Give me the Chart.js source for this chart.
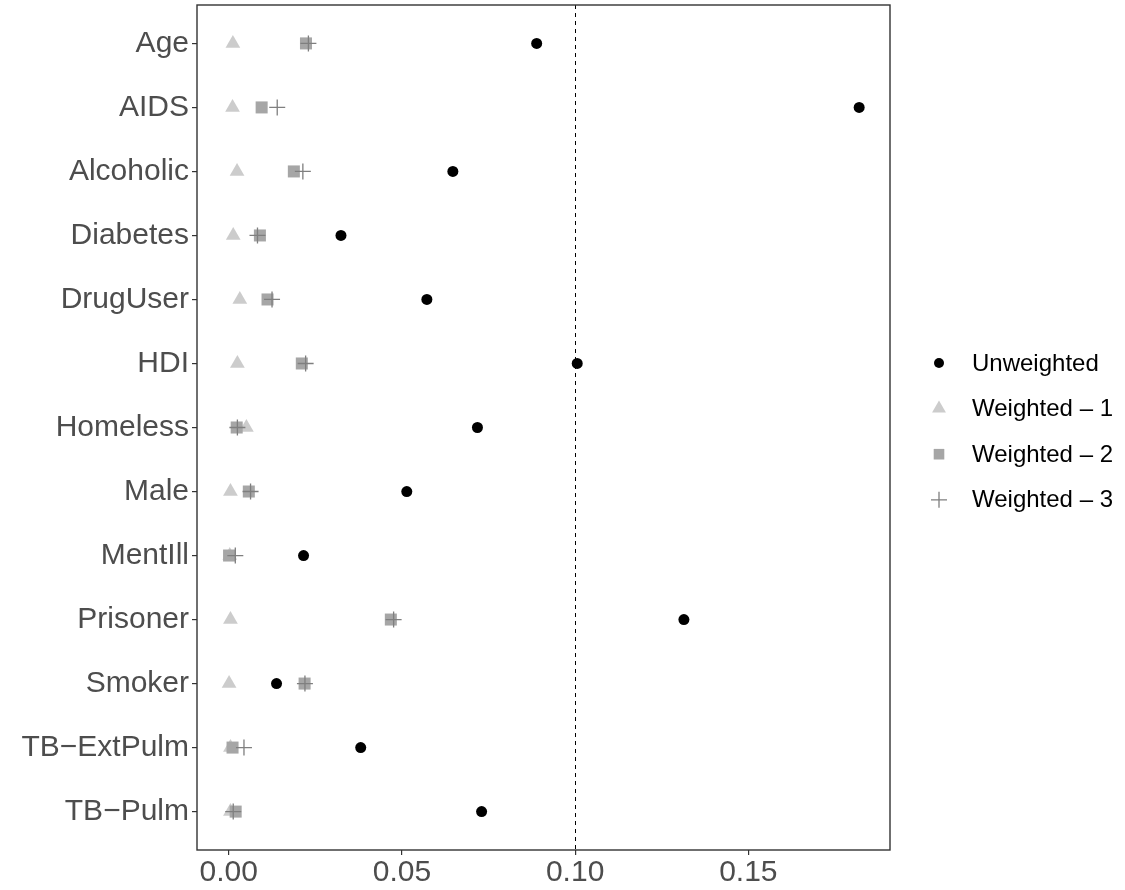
<!DOCTYPE html>
<html>
<head>
<meta charset="utf-8">
<title>Balance plot</title>
<script src="https://cdn.jsdelivr.net/npm/chart.js@4.4.1/dist/chart.umd.min.js"></script>
<style>
  html, body { margin: 0; padding: 0; background: #ffffff; }
  #wrap { width: 1125px; height: 890px; }
</style>
</head>
<body>
<div id="wrap"><canvas id="balanceChart"></canvas></div>
<script>
// covariates, top to bottom
var covariates = ['Age', 'AIDS', 'Alcoholic', 'Diabetes', 'DrugUser', 'HDI', 'Homeless',
                  'Male', 'MentIll', 'Prisoner', 'Smoker', 'TB\u2212ExtPulm', 'TB\u2212Pulm'];

// standardized mean differences
var unweighted = [0.0889, 0.1820, 0.0647, 0.0324, 0.0572, 0.1006, 0.0718, 0.0514, 0.0216, 0.1314, 0.0138, 0.0381, 0.0730];
var weighted1  = [0.0012, 0.0011, 0.0024, 0.0013, 0.0032, 0.0025, 0.0051, 0.0005, 0.0003, 0.0005, 0.0001, 0.0005, 0.0005];
var weighted2  = [0.0223, 0.0095, 0.0188, 0.0090, 0.0112, 0.0211, 0.0023, 0.0058, 0.0001, 0.0468, 0.0219, 0.0011, 0.0020];
var weighted3  = [0.0230, 0.0140, 0.0214, 0.0083, 0.0125, 0.0222, 0.0025, 0.0063, 0.0019, 0.0476, 0.0220, 0.0044, 0.0013];

var xTicks = [0, 0.05, 0.10, 0.15];
var threshold = 0.1;

var labelFont = '"Liberation Sans", Arial, Helvetica, sans-serif';

function toPoints(vals) {
  return vals.map(function (v, i) { return { x: v, y: i }; });
}

// dataset 0 is drawn last (on top), so the plus series goes first
var datasets = [
  {
    label: 'Weighted \u2013 3',
    data: toPoints(weighted3),
    pointStyle: 'cross',
    pointRadius: 8,
    borderColor: '#7f7f7f',
    backgroundColor: '#7f7f7f',
    borderWidth: 1.3,
    legendRadius: 8
  },
  {
    label: 'Weighted \u2013 2',
    data: toPoints(weighted2),
    pointStyle: 'rect',
    pointRadius: 8.5,
    backgroundColor: '#a6a6a6',
    borderColor: '#a6a6a6',
    borderWidth: 0,
    legendRadius: 7.5
  },
  {
    label: 'Weighted \u2013 1',
    data: toPoints(weighted1),
    pointStyle: 'triangle',
    pointRadius: 8.5,
    backgroundColor: '#cccccc',
    borderColor: '#cccccc',
    borderWidth: 0,
    legendRadius: 8
  },
  {
    label: 'Unweighted',
    data: toPoints(unweighted),
    pointStyle: 'circle',
    pointRadius: 5.5,
    backgroundColor: '#000000',
    borderColor: '#000000',
    borderWidth: 0,
    legendRadius: 5
  }
];

// dashed reference line + panel border
var panelPlugin = {
  id: 'panel',
  beforeDatasetsDraw: function (chart) {
    var ctx = chart.ctx, area = chart.chartArea;
    var x = chart.scales.x.getPixelForValue(threshold);
    ctx.save();
    ctx.strokeStyle = '#000000';
    ctx.lineWidth = 1;
    ctx.setLineDash([4, 4]);
    ctx.beginPath();
    ctx.moveTo(Math.round(x) + 0.5, area.top);
    ctx.lineTo(Math.round(x) + 0.5, area.bottom);
    ctx.stroke();
    ctx.restore();
  },
  afterDraw: function (chart) {
    var ctx = chart.ctx, area = chart.chartArea;
    ctx.save();
    ctx.strokeStyle = '#333333';
    ctx.lineWidth = 1.4;
    ctx.strokeRect(area.left, area.top, area.right - area.left, area.bottom - area.top);
    ctx.restore();
  }
};

// legend on the right, in original order
var legendPlugin = {
  id: 'sideLegend',
  afterDraw: function (chart) {
    var ctx = chart.ctx;
    var items = chart.data.datasets.slice().reverse();
    var markX = 939, textX = 972, rowY = 363, step = 45.6;
    ctx.save();
    ctx.font = '24px ' + labelFont;
    ctx.textAlign = 'left';
    ctx.textBaseline = 'middle';
    items.forEach(function (ds, i) {
      var y = rowY + i * step;
      ctx.fillStyle = ds.backgroundColor;
      ctx.strokeStyle = ds.borderColor;
      ctx.lineWidth = ds.borderWidth;
      Chart.helpers.drawPoint(ctx, {
        pointStyle: ds.pointStyle,
        radius: ds.legendRadius,
        rotation: 0,
        borderWidth: ds.borderWidth
      }, markX, y);
      ctx.fillStyle = '#000000';
      ctx.fillText(ds.label, textX, y + 1);
    });
    ctx.restore();
  }
};

var ctx = document.getElementById('balanceChart').getContext('2d');
new Chart(ctx, {
  type: 'scatter',
  data: { datasets: datasets },
  plugins: [panelPlugin, legendPlugin],
  options: {
    responsive: true,
    maintainAspectRatio: false,
    animation: false,
    events: [],
    layout: { autoPadding: false, padding: { top: 5, right: 235, bottom: 0, left: 0 } },
    plugins: {
      legend: { display: false },
      tooltip: { enabled: false }
    },
    scales: {
      x: {
        type: 'linear',
        min: -0.00916,
        max: 0.1909,
        afterBuildTicks: function (scale) {
          scale.ticks = xTicks.map(function (v) { return { value: v }; });
        },
        afterFit: function (scale) {
          scale.height = 40;
          scale.paddingLeft = 0;
          scale.paddingRight = 0;
        },
        border: { display: false },
        grid: { drawOnChartArea: false, drawTicks: true, tickLength: 5, color: '#333333', lineWidth: 1.2 },
        ticks: {
          autoSkip: false,
          maxRotation: 0,
          padding: 0,
          color: '#4d4d4d',
          font: { family: labelFont, size: 30 },
          callback: function (v) { return Number(v).toFixed(2); }
        }
      },
      y: {
        type: 'linear',
        min: -0.6,
        max: 12.6,
        reverse: true,
        afterBuildTicks: function (scale) {
          scale.ticks = covariates.map(function (c, i) { return { value: i }; });
        },
        afterFit: function (scale) {
          scale.width = 197;
          scale.paddingTop = 0;
          scale.paddingBottom = 0;
        },
        border: { display: false },
        grid: { drawOnChartArea: false, drawTicks: true, tickLength: 5, color: '#333333', lineWidth: 1.2 },
        ticks: {
          autoSkip: false,
          padding: 3,
          color: '#4d4d4d',
          font: { family: labelFont, size: 30 },
          callback: function (v) { return covariates[v]; }
        }
      }
    }
  }
});
</script>
</body>
</html>
